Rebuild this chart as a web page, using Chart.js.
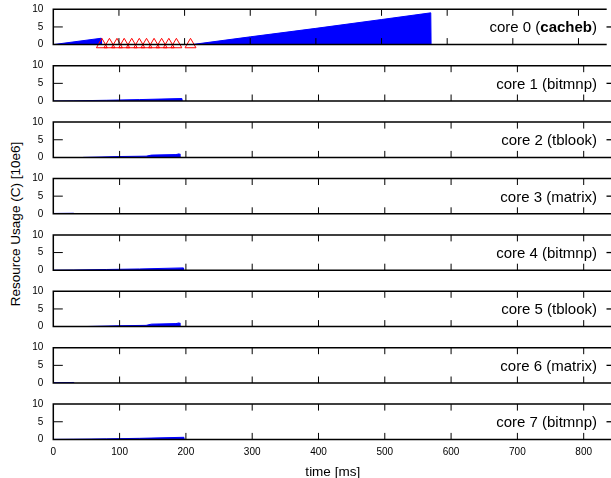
<!DOCTYPE html>
<html>
<head>
<meta charset="utf-8">
<script src="https://cdn.jsdelivr.net/npm/chart.js@4.4.0/dist/chart.umd.min.js"></script>
<style>
  html, body { margin: 0; padding: 0; background: #fff; width: 611px; height: 478px; overflow: hidden; }
  .panel { position: absolute; left: 0; }
  #ytitle {
    position: absolute; left: 15px; top: 224px;
    transform: translate(-50%, -50%) rotate(-90deg);
    white-space: nowrap;
    font: 13.5px "Liberation Sans", Arial, Helvetica, sans-serif;
    color: #000;
  }
</style>
</head>
<body>
<div id="ytitle">Resource Usage (C) [10e6]</div>
<script>
const FONT = '"Liberation Sans", Arial, Helvetica, sans-serif';

// tick labels
const timeTicks = [0, 100, 200, 300, 400, 500, 600, 700, 800];
const usageTicks = [0, 5, 10];

// panels
const coreLabels = ['core 0', 'core 1', 'core 2', 'core 3', 'core 4', 'core 5', 'core 6', 'core 7'];
const corePrograms = ['cacheb', 'bitmnp', 'tblook', 'matrix', 'bitmnp', 'tblook', 'matrix', 'bitmnp'];

// usage series (time in ms, usage in 10e6)
const core0Time  = [0, 73, 73.5, 211, 300, 400, 500, 575, 575.5];
const core0Usage = [0, 1.8, 0, 0, 2.2, 4.6, 7.1, 9.0, 0];
const core1Time  = [0, 30, 80, 130, 194, 194.5];
const core1Usage = [0, 0.05, 0.2, 0.4, 0.7, 0];
const core2Time  = [45, 100, 140, 148, 185, 190, 191];
const core2Usage = [0, 0.25, 0.35, 0.65, 0.8, 1.0, 0];
const core3Time  = [0, 31, 31.5];
const core3Usage = [0.1, 0.15, 0];
const core4Time  = [0, 30, 80, 130, 196, 196.5];
const core4Usage = [0, 0.05, 0.2, 0.35, 0.65, 0];
const core5Time  = [45, 100, 140, 148, 185, 190, 191];
const core5Usage = [0, 0.25, 0.35, 0.7, 0.85, 1.05, 0];
const core6Time  = [0, 31, 31.5];
const core6Usage = [0.1, 0.15, 0];
const core7Time  = [0, 30, 80, 130, 197, 197.5];
const core7Usage = [0, 0.05, 0.15, 0.3, 0.6, 0];

// red markers on core 0
const core0MarkTime  = [74, 85.5, 97, 108, 119.5, 131, 142, 153.5, 165, 176, 187.5, 209];
const core0MarkUsage = [0, 0, 0, 0, 0, 0, 0, 0, 0, 0, 0, 0];

const coreTimes  = [core0Time, core1Time, core2Time, core3Time, core4Time, core5Time, core6Time, core7Time];
const coreUsages = [core0Usage, core1Usage, core2Usage, core3Usage, core4Usage, core5Usage, core6Usage, core7Usage];

// layout
const CANVAS_W = 614;
const PLOT_LEFT = 53.3;
const PLOT_RIGHT = 612.2;
const PANEL_TOP = 9.3;
const PANEL_STEP = 56.4;
const PANEL_H = 35.3;
const X_MAX = 843;

const toPoints = (xs, ys) => xs.map((x, i) => ({ x: x, y: ys[i] }));

const framePlugin = {
    id: 'frame',
    afterDatasetsDraw(chart) {
        const { ctx, chartArea: a, scales: { x, y } } = chart;
        ctx.save();
        ctx.strokeStyle = '#000';
        ctx.lineWidth = 1;
        ctx.beginPath();
        timeTicks.forEach(t => {
            if (t === 0) return;
            const px = x.getPixelForValue(t);
            ctx.moveTo(px, a.top); ctx.lineTo(px, a.top + 6.5);
            ctx.moveTo(px, a.bottom); ctx.lineTo(px, a.bottom - 6.5);
        });
        const py = y.getPixelForValue(5);
        ctx.moveTo(a.left, py); ctx.lineTo(a.left + 9.5, py);
        ctx.stroke();

        ctx.lineWidth = 1.5;
        ctx.beginPath();
        ctx.moveTo(a.right, a.top);
        ctx.lineTo(a.left, a.top);
        ctx.lineTo(a.left, a.bottom);
        ctx.lineTo(a.right, a.bottom);
        ctx.stroke();
        ctx.restore();
    },
    afterDraw(chart, args, opts) {
        const { ctx, chartArea: a } = chart;
        const mid = (a.top + a.bottom) / 2;
        const normal = `15px ${FONT}`;
        const bold = `bold 15px ${FONT}`;
        const parts = [
            [opts.label + ' (', normal],
            [opts.program, opts.bold ? bold : normal],
            [')', normal]
        ];
        ctx.save();
        ctx.fillStyle = '#000';
        ctx.textBaseline = 'alphabetic';
        ctx.textAlign = 'left';
        let total = 0;
        parts.forEach(p => { ctx.font = p[1]; total += ctx.measureText(p[0]).width; });
        let xx = 597 - total;
        parts.forEach(p => {
            ctx.font = p[1];
            ctx.fillText(p[0], xx, mid + 5.4);
            xx += ctx.measureText(p[0]).width;
        });
        ctx.strokeStyle = '#000';
        ctx.lineWidth = 1.3;
        ctx.beginPath();
        ctx.moveTo(606.5, mid);
        ctx.lineTo(CANVAS_W, mid);
        ctx.stroke();
        ctx.restore();
    }
};

const noScalePadding = s => {
    s.paddingTop = 0; s.paddingBottom = 0; s.paddingLeft = 0; s.paddingRight = 0;
};

coreLabels.forEach((label, i) => {
    const last = i === coreLabels.length - 1;
    const plotTop = PANEL_TOP + PANEL_STEP * i;
    const divTop = Math.floor(plotTop) - 8;
    const height = last ? 480 - divTop : 52;
    const padTop = plotTop - divTop;
    const padBottom = last ? 0 : height - padTop - PANEL_H;

    const div = document.createElement('div');
    div.className = 'panel';
    div.style.top = divTop + 'px';
    const canvas = document.createElement('canvas');
    canvas.width = CANVAS_W;
    canvas.height = height;
    div.appendChild(canvas);
    document.body.appendChild(div);

    const datasets = [];
    if (i === 0) {
        datasets.push({
            data: toPoints(core0MarkTime, core0MarkUsage),
            showLine: false,
            pointStyle: 'triangle',
            pointRadius: 6.3,
            pointBorderColor: '#ff0000',
            pointBackgroundColor: 'rgba(0,0,0,0)',
            pointBorderWidth: 1,
            clip: false
        });
    }
    datasets.push({
        data: toPoints(coreTimes[i], coreUsages[i]),
        borderColor: '#0000ff',
        backgroundColor: '#0000ff',
        borderWidth: 1,
        pointRadius: 0,
        fill: 'origin',
        tension: 0
    });

    new Chart(canvas, {
        type: 'line',
        data: { datasets: datasets },
        plugins: [framePlugin],
        options: {
            responsive: false,
            animation: false,
            events: [],
            layout: { padding: { left: 0, right: CANVAS_W - PLOT_RIGHT, top: padTop, bottom: padBottom } },
            plugins: {
                legend: { display: false },
                tooltip: { enabled: false },
                frame: { label: label, program: corePrograms[i], bold: i === 0 }
            },
            scales: {
                x: {
                    type: 'linear',
                    min: 0,
                    max: X_MAX,
                    display: last,
                    afterBuildTicks: s => { s.ticks = timeTicks.map(v => ({ value: v })); },
                    afterFit: s => {
                        noScalePadding(s);
                        if (last) s.height = 480 - (plotTop + PANEL_H);
                    },
                    grid: { display: false, drawTicks: false },
                    border: { display: false },
                    ticks: { color: '#000', padding: 7, maxRotation: 0, font: { family: FONT, size: 10 } },
                    title: {
                        display: last,
                        text: 'time [ms]',
                        color: '#000',
                        padding: 0,
                        font: { family: FONT, size: 13.5 }
                    }
                },
                y: {
                    min: 0,
                    max: 10,
                    afterBuildTicks: s => { s.ticks = usageTicks.map(v => ({ value: v })); },
                    afterFit: s => {
                        noScalePadding(s);
                        s.width = PLOT_LEFT;
                    },
                    grid: { display: false, drawTicks: false },
                    border: { display: false },
                    ticks: { color: '#000', padding: 10, font: { family: FONT, size: 10 } }
                }
            }
        }
    });
});
</script>
</body>
</html>
